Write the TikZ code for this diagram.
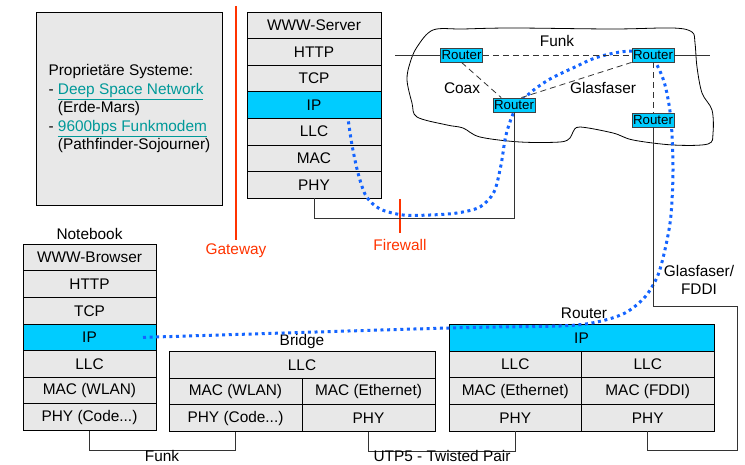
\documentclass[tikz,border=0pt]{standalone}
\usepackage{fontspec}
\setmainfont{Liberation Sans}
\usetikzlibrary{positioning, calc}
\definecolor{layergray}{RGB}{232,232,232}
\definecolor{ipcyan}{RGB}{0,204,255}
\definecolor{routeblue}{RGB}{20,100,255}
\definecolor{gwred}{RGB}{255,51,0}
\definecolor{linkteal}{RGB}{0,153,153}

\begin{document}
\begin{tikzpicture}[x=1pt, y=-1pt,
  font=\fontsize{15.4}{18.5}\selectfont,
  layer/.style={draw, line width=0.9pt, fill=layergray, minimum height=26.6pt, inner sep=0pt, outer sep=0pt},
  iplayer/.style={layer, fill=ipcyan},
  router/.style={draw=black!75, line width=0.8pt, fill=ipcyan, minimum width=42pt, minimum height=14pt, inner sep=0pt, font=\fontsize{13.3}{13.3}\selectfont},
  cable/.style={draw=black!80, line width=0.8pt},
  wall/.style={draw=gwred, line width=2pt},
  walllabel/.style={text=gwred, inner sep=1pt},
  iproute/.style={draw=routeblue, line width=3pt, dash pattern=on 3pt off 3.6pt},
  lbl/.style={inner sep=1pt}]
\useasboundingbox (0,0) rectangle (745,465);

% proprietary systems
\node[draw, line width=0.9pt, fill=layergray, minimum width=186pt, minimum height=193pt, anchor=north west, align=left] (prop) at (36,12)
  {Propriet\"are Systeme:\\- \textcolor{linkteal}{\underline{Deep Space Network}}\\\phantom{- }(Erde-Mars)\\- \textcolor{linkteal}{\underline{9600bps Funkmodem}}\\\phantom{- }(Pathfinder-Sojourner)};

% gateway and firewall
\draw[wall] (236,6) -- (236,240);
\node[walllabel] (gw) at (236,251) {Gateway};
\draw[wall] (400,199) -- (400,233);
\node[walllabel] (fw) at (400,245) {Firewall};

% cloud
\draw[line width=0.8pt] plot[smooth cycle, tension=0.55] coordinates {
  (433,30) (463,29) (513,28) (613,29) (673,28) (692,32) (695,43) (697,67)
  (702,93) (712,110) (713,133) (708,144) (673,145) (633,140) (613,133)
  (580,127) (573,132) (570,138) (560,142) (520,142) (480,137) (463,128)
  (447,125) (417,117) (412,103) (407,80) (410,63) (417,47)};

% WWW server
\node[layer, minimum width=134pt, anchor=north west] (sweb) at (247,12) {WWW-Server};
\node[layer, minimum width=134pt, below=0pt of sweb] (shttp) {HTTP};
\node[layer, minimum width=134pt, below=0pt of shttp] (stcp) {TCP};
\node[iplayer, minimum width=134pt, below=0pt of stcp] (sip) {IP};
\node[layer, minimum width=134pt, below=0pt of sip] (sllc) {LLC};
\node[layer, minimum width=134pt, below=0pt of sllc] (smac) {MAC};
\node[layer, minimum width=134pt, below=0pt of smac] (sphy) {PHY};

% notebook
\node[layer, minimum width=133pt, anchor=north west] (nweb) at (23,244.3) {WWW-Browser};
\node[layer, minimum width=133pt, below=0pt of nweb] (nhttp) {HTTP};
\node[layer, minimum width=133pt, below=0pt of nhttp] (ntcp) {TCP};
\node[iplayer, minimum width=133pt, below=0pt of ntcp] (nip) {IP};
\node[layer, minimum width=133pt, below=0pt of nip] (nllc) {LLC};
\node[layer, minimum width=133pt, below=0pt of nllc] (nmac) {MAC (WLAN)};
\node[layer, minimum width=133pt, below=0pt of nmac] (nphy) {PHY (Code...)};
\node[lbl, above=3pt of nweb] (nbook) {Notebook};

% bridge
\node[layer, minimum width=266pt, anchor=north west] (bllc) at (169,351.7) {LLC};
\node[layer, minimum width=133pt, below right=0pt of bllc.south west] (bmacw) {MAC (WLAN)};
\node[layer, minimum width=133pt, right=0pt of bmacw] (bmace) {MAC (Ethernet)};
\node[layer, minimum width=133pt, below=0pt of bmacw] (bphyw) {PHY (Code...)};
\node[layer, minimum width=133pt, below=0pt of bmace] (bphye) {PHY};
\node[lbl, above=2pt of bllc] (bridge) {Bridge};

% router stack
\node[iplayer, minimum width=265pt, anchor=north west] (rip) at (449,324.7) {IP};
\node[layer, minimum width=132.5pt, below right=0pt of rip.south west] (rllcl) {LLC};
\node[layer, minimum width=132.5pt, right=0pt of rllcl] (rllcr) {LLC};
\node[layer, minimum width=132.5pt, below=0pt of rllcl] (rmacl) {MAC (Ethernet)};
\node[layer, minimum width=132.5pt, below=0pt of rllcr] (rmacr) {MAC (FDDI)};
\node[layer, minimum width=132.5pt, below=0pt of rmacl] (rphyl) {PHY};
\node[layer, minimum width=132.5pt, below=0pt of rmacr] (rphyr) {PHY};
\node[lbl] (rlabel) at (584,313) {Router};

% IP route
\coordinate (ipstart) at ($(nip.east)+(-13,0)$);
\coordinate (ipend) at ($(sip.south)+(34,0)$);
\draw[iproute] plot[smooth, tension=0.5] coordinates {
  (ipstart) (449,328) (560,326) (597,322) (625,313) (645,297) (658,275)
  (666,245) (671,215) (673,170) (671,120) (665,85) (655,62) (640,52)
  (620,52) (595,58) (575,67) (550,79) (530,93) (515,110) (506,135)
  (501,165) (494,192) (480,207) (457,213) (430,215) (403,215) (380,209)
  (366,196) (358,173) (352,145) (ipend)};

% routers in the cloud
\node[router] (r1) at (461.5,55) {Router};
\node[router] (r3) at (653,55) {Router};
\node[router] (r2) at (514,105) {Router};
\node[router] (r4) at (653,120) {Router};

% links
\coordinate (funkL) at (395,55);
\coordinate (funkR) at (710,55);
\coordinate (fddiA) at (737,306);
\coordinate (fddiB) at (737,450);
\draw[cable] (funkL) -- (r1.west);
\draw[cable, dash pattern=on 6pt off 4pt] (r1.east) -- (r3.west);
\draw[cable] (r3.east) -- (funkR);
\draw[cable, dash pattern=on 6pt off 4pt] (r1.south) -- (r2.150);
\draw[cable, dash pattern=on 6pt off 4pt] (r2.45) -- (r3.south west);
\draw[cable, dash pattern=on 6pt off 4pt] (r3.south) -- (r4.north);
\draw[cable] (sphy.south) -- ++(0,20) -| (r2.south);
\draw[cable] (r4.south) |- (fddiA) -- (fddiB) -| (rphyr.south);
\draw[cable] (nphy.south) -- ++(0,20) -| (bphyw.south);
\draw[cable] (bphye.south) -- ++(0,20) -| (rphyl.south);

% labels
\node[lbl] (lfunk) at (557,41) {Funk};
\node[lbl] (lcoax) at (462,88) {Coax};
\node[lbl] (lglas) at (603,88) {Glasfaser};
\node[lbl, align=center] (lfddi) at (699,280) {Glasfaser/\\FDDI};
\node[lbl] (lfunk2) at (162,456) {Funk};
\node[lbl] (lutp) at (442,456) {UTP5 - Twisted Pair};
\end{tikzpicture}
\end{document}
